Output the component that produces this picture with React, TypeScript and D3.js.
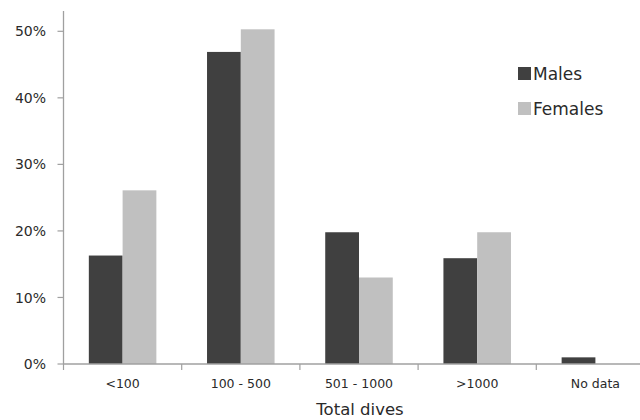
import React from "react";
import * as d3 from "d3";

const categories = ["<100", "100 - 500", "501 - 1000", ">1000", "No data"];
const series = ["Males", "Females"];
const males = [16.3, 46.9, 19.8, 15.9, 1.0];
const females = [26.1, 50.3, 13.0, 19.8, 0];
const yTicks = [0, 10, 20, 30, 40, 50];
const colors = ["#404040", "#c0c0c0"];
const xTitle = "Total dives";

const W = 640, H = 420;
const x0 = 63.5;
const yZero = 364;
const yTop = 11;

export default function App() {
  const y = d3.scaleLinear().domain([0, 50]).range([yZero, 31.3]);
  const x = d3.scaleBand<string>().domain(categories).range([x0, x0 + 118.2 * 5]).padding(0);
  const xs = d3.scaleBand<string>().domain(series).range([0, x.bandwidth()]).paddingInner(0).paddingOuter(0.75);
  const vals = [males, females];
  const font = "'DejaVu Sans', sans-serif";
  const textColor = "#2a2a2a";
  return (
    <svg width={W} height={H} style={{ position: "fixed", left: 0, top: 0, background: "#fff" }} fontFamily={font}>
      {series.map((s, si) =>
        categories.map((c, ci) => {
          const v = vals[si][ci];
          if (v <= 0) return null;
          return (
            <rect key={s + c} x={(x(c) as number) + (xs(s) as number)} y={y(v)} width={xs.bandwidth()} height={yZero - y(v)} fill={colors[si]} />
          );
        })
      )}
      {/* y axis */}
      <line x1={x0} x2={x0} y1={yTop} y2={yZero} stroke="#a0a0a0" strokeWidth={1.3} />
      {yTicks.map((t) => (
        <g key={t}>
          <line x1={x0 - 6} x2={x0} y1={y(t)} y2={y(t)} stroke="#a0a0a0" strokeWidth={1.2} />
          <text x={46} y={y(t)} dy="0.36em" textAnchor="end" fontSize={14} fill={textColor}>{t + "%"}</text>
        </g>
      ))}
      {/* x axis */}
      <line x1={x0} x2={W} y1={yZero} y2={yZero} stroke="#a0a0a0" strokeWidth={1.3} />
      {categories.map((c) => (
        <line key={"t" + c} x1={x(c) as number} x2={x(c) as number} y1={yZero} y2={yZero + 6} stroke="#a0a0a0" strokeWidth={1.2} />
      ))}
      {categories.map((c) => (
        <text key={"l" + c} x={(x(c) as number) + x.bandwidth() / 2} y={388} textAnchor="middle" fontSize={12.5} fill={textColor}>{c}</text>
      ))}
      <text x={360} y={415} textAnchor="middle" fontSize={16.5} fill={textColor}>{xTitle}</text>
      {/* legend */}
      {series.map((s, i) => (
        <g key={"lg" + s} transform={`translate(518, ${67 + i * 35})`}>
          <rect x={0} y={0} width={13} height={13} fill={colors[i]} />
          <text x={15} y={12.5} fontSize={17} fill={textColor}>{s}</text>
        </g>
      ))}
    </svg>
  );
}
